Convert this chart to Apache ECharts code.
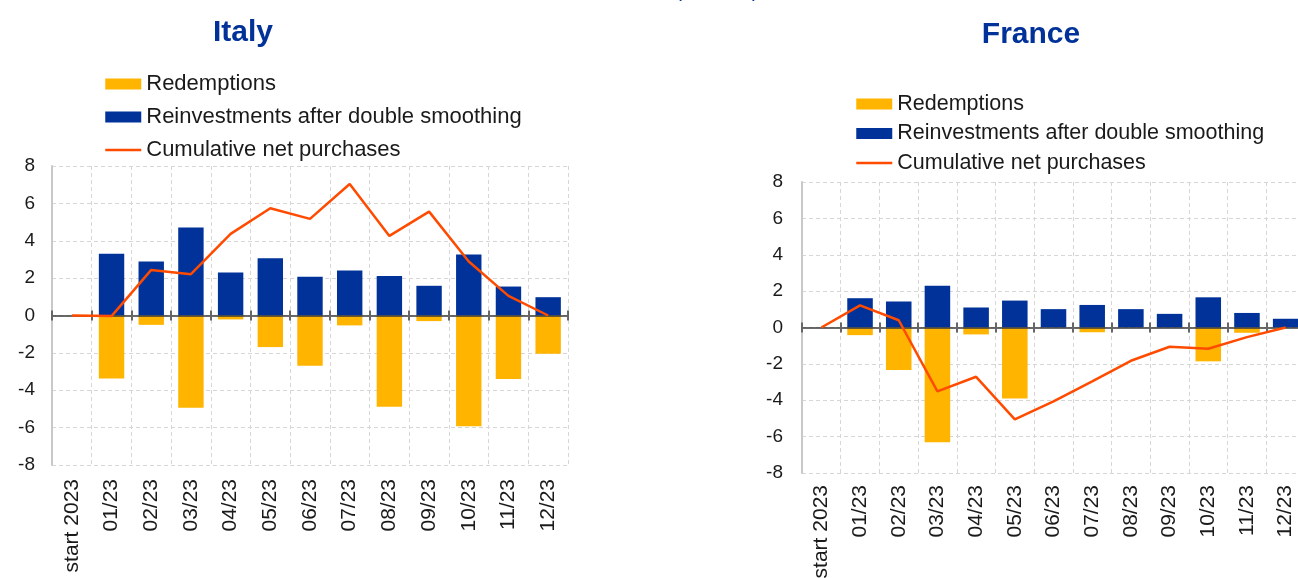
<!DOCTYPE html>
<html>
<head>
<meta charset="utf-8">
<script src="https://cdn.jsdelivr.net/npm/echarts@6/dist/echarts.min.js"></script>
<style>
  html, body { margin: 0; padding: 0; background: #fff; }
  #chart { width: 1298px; height: 578px; }
</style>
</head>
<body>
<div id="chart"></div>
<script>
const categories = ['start 2023', '01/23', '02/23', '03/23', '04/23', '05/23', '06/23', '07/23', '08/23', '09/23', '10/23', '11/23', '12/23']
const seriesNames = ['Redemptions', 'Reinvestments after double smoothing', 'Cumulative net purchases']
const yTicks = [-8, -6, -4, -2, 0, 2, 4, 6, 8]

// Italy
const italyRedemptions = [null, -3.37, -0.50, -4.94, -0.21, -1.69, -2.69, -0.53, -4.88, -0.30, -5.92, -3.40, -2.05]
const italyReinvestments = [null, 3.30, 2.89, 4.71, 2.30, 3.07, 2.07, 2.41, 2.12, 1.59, 3.26, 1.55, 0.98]
const italyCumulative = [0, -0.03, 2.44, 2.21, 4.37, 5.74, 5.17, 7.04, 4.26, 5.56, 2.89, 1.05, 0]

// France
const franceRedemptions = [null, -0.42, -2.34, -6.31, -0.38, -3.91, 0, -0.26, 0, 0, -1.86, -0.29, 0]
const franceReinvestments = [null, 1.61, 1.43, 2.29, 1.10, 1.48, 1.01, 1.24, 1.01, 0.75, 1.66, 0.80, 0.48]
const franceCumulative = [0, 1.22, 0.40, -3.51, -2.71, -5.05, -4.06, -2.96, -1.83, -1.06, -1.17, -0.53, 0]

const YELLOW = '#FFB400'
const BLUE = '#003299'
const ORANGE = '#FF4B00'
const FONT = '"Liberation Sans", Arial, sans-serif'

const chart = echarts.init(document.getElementById('chart'))

const panels = [
  { title: 'Italy', tx: 243, ty: 33, tsize: 30, grid: { left: 52, top: 166, width: 516, height: 299 },
    legend: { left: 104, top: 73, fs: 22, gap: 11 }, ylabelMargin: 17, xlabelMargin: 14,
    red: italyRedemptions, rei: italyReinvestments, cum: italyCumulative, barWidth: '64%' },
  { title: 'France', tx: 1031, ty: 35, tsize: 30, grid: { left: 802, top: 182, width: 503, height: 291 },
    legend: { left: 855, top: 93, fs: 21.5, gap: 7.5 }, ylabelMargin: 19, xlabelMargin: 12,
    red: franceRedemptions, rei: franceReinvestments, cum: franceCumulative, barWidth: '66%' }
]

const grid = [], xAxis = [], yAxis = [], legend = [], series = [], graphic = []

panels.forEach((p, i) => {
  // keep the grid where it is even though labels / the right edge run past the canvas
  grid.push(Object.assign({ outerBoundsMode: 'none', containLabel: false }, p.grid))

  yAxis.push({
    type: 'value', gridIndex: i, min: yTicks[0], max: yTicks[yTicks.length - 1], interval: 2,
    axisLine: { show: true, lineStyle: { color: '#c8c8c8', width: 2 } },
    axisTick: { show: false },
    axisLabel: { fontFamily: FONT, fontSize: 19, color: '#1a1a1a', margin: p.ylabelMargin },
    splitLine: { lineStyle: { color: '#d6d6d6', type: [4, 3], width: 1 } }
  })

  // bottom axis: labels + vertical dashed grid
  xAxis.push({
    type: 'category', gridIndex: i, data: categories, position: 'bottom',
    axisLine: { show: false, onZero: false },
    axisTick: { show: false },
    axisLabel: { rotate: 90, interval: 0, fontFamily: FONT, fontSize: 21, color: '#1a1a1a', margin: p.xlabelMargin },
    splitLine: { show: true, interval: 0, lineStyle: { color: '#d6d6d6', type: [4, 3], width: 1 } }
  })
  // zero line, ticks pointing down
  xAxis.push({
    type: 'category', gridIndex: i, data: categories, position: 'bottom', z: 5,
    axisLine: { show: true, onZero: true, onZeroAxisIndex: i, lineStyle: { color: '#3a3a3a', width: 1.5 } },
    axisTick: { show: true, interval: 0, length: 5, lineStyle: { color: '#666', width: 2 } },
    axisLabel: { show: false }, splitLine: { show: false }
  })
  // ticks pointing up
  xAxis.push({
    type: 'category', gridIndex: i, data: categories, position: 'bottom', z: 5,
    axisLine: { show: false, onZero: true, onZeroAxisIndex: i },
    axisTick: { show: true, inside: true, interval: 0, length: 5, lineStyle: { color: '#666', width: 2 } },
    axisLabel: { show: false }, splitLine: { show: false }
  })

  const xi = i * 3
  series.push(
    { name: seriesNames[0], type: 'bar', xAxisIndex: xi, yAxisIndex: i, data: p.red,
      barWidth: p.barWidth, barGap: '-100%', itemStyle: { color: YELLOW } },
    { name: seriesNames[1], type: 'bar', xAxisIndex: xi, yAxisIndex: i, data: p.rei,
      barWidth: p.barWidth, barGap: '-100%', itemStyle: { color: BLUE } },
    { name: seriesNames[2], type: 'line', xAxisIndex: xi, yAxisIndex: i, data: p.cum, z: 10,
      symbol: 'none', lineStyle: { color: ORANGE, width: 2.5 }, itemStyle: { color: ORANGE } }
  )

  legend.push({
    orient: 'vertical', left: p.legend.left, top: p.legend.top, itemGap: p.legend.gap,
    padding: 0, itemWidth: 36, itemHeight: 11,
    textStyle: { fontFamily: FONT, fontSize: p.legend.fs, color: '#1a1a1a' },
    data: [
      { name: seriesNames[0], icon: 'rect' },
      { name: seriesNames[1], icon: 'rect' },
      { name: seriesNames[2], itemStyle: { opacity: 0 }, lineStyle: { width: 2.5 } }
    ]
  })

  graphic.push({
    type: 'text', x: p.tx, y: p.ty,
    style: { text: p.title, fill: BLUE, font: 'bold ' + p.tsize + 'px ' + FONT, align: 'center', verticalAlign: 'middle' }
  })
})

// subtitle cut off at the top edge
graphic.push({
  type: 'text', x: 717, y: -9,
  style: { text: '(EUR bn)', fill: BLUE, font: '20px ' + FONT, align: 'center', verticalAlign: 'middle' }
})

chart.setOption({
  animation: false,
  backgroundColor: '#fff',
  grid, xAxis, yAxis, legend, series, graphic
})
</script>
</body>
</html>
